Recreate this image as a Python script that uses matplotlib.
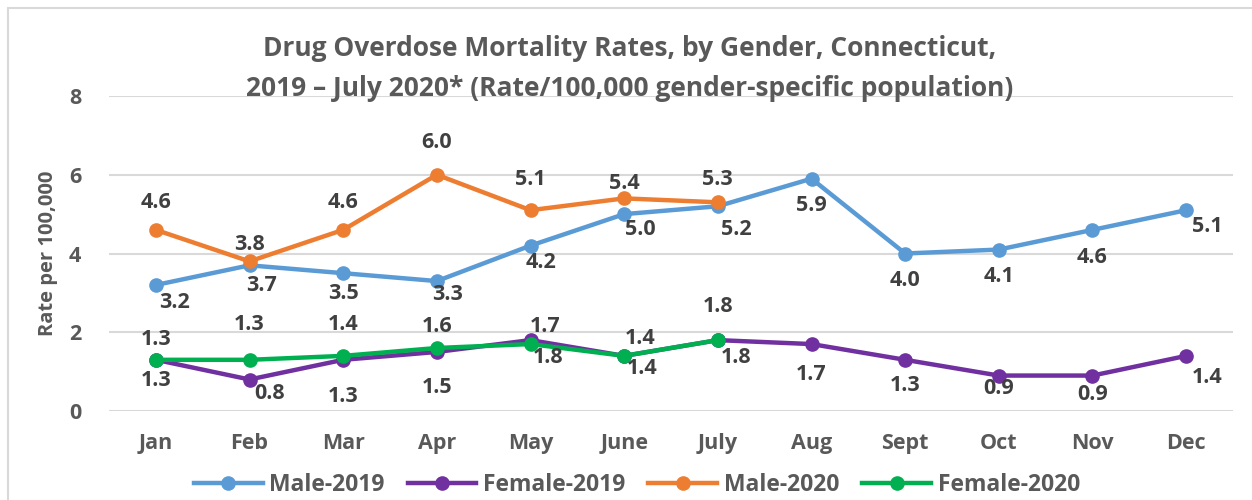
import matplotlib
matplotlib.use("Agg")
import matplotlib.pyplot as plt
from matplotlib.patches import Rectangle

plt.rcParams['font.family'] = ['Open Sans', 'DejaVu Sans']
plt.rcParams['font.weight'] = 'bold'

# data
months = ['Jan', 'Feb', 'Mar', 'Apr', 'May', 'June', 'July', 'Aug', 'Sept', 'Oct', 'Nov', 'Dec']
male_2019 = [3.2, 3.7, 3.5, 3.3, 4.2, 5.0, 5.2, 5.9, 4.0, 4.1, 4.6, 5.1]
female_2019 = [1.3, 0.8, 1.3, 1.5, 1.8, 1.4, 1.8, 1.7, 1.3, 0.9, 0.9, 1.4]
male_2020 = [4.6, 3.8, 4.6, 6.0, 5.1, 5.4, 5.3]
female_2020 = [1.3, 1.3, 1.4, 1.6, 1.7, 1.4, 1.8]

# label offsets in pixels (dx, dy), up is positive
off_m19 = [(19, -18), (12, -20), (0, -20), (11, -13), (10, -17), (16, -15), (18, -23),
           (0, -27), (0, -27), (0, -27), (0, -28), (21, -16)]
off_f19 = [(0, -21), (20, -14), (0, -37), (0, -36), (18, -17), (18, -13), (18, -17),
           (0, -30), (0, -26), (0, -13), (0, -19), (21, -22)]
off_m20 = [(0, 27), (0, 17), (0, 27), (0, 32), (0, 31), (0, 15), (0, 23)]
off_f20 = [(0, 20), (0, 35), (0, 31), (0, 21), (15, 18), (16, 17), (0, 34)]

fig = plt.figure(figsize=(12.52, 5.0), dpi=100)
ax = fig.add_axes([109 / 1252, 89 / 500, 1124 / 1252, 315 / 500])

series = [
    ('Male-2019', male_2019, '#5B9BD5', off_m19),
    ('Female-2019', female_2019, '#7030A0', off_f19),
    ('Male-2020', male_2020, '#ED7D31', off_m20),
    ('Female-2020', female_2020, '#00B050', off_f20),
]

for name, vals, col, offs in series:
    x = list(range(len(vals)))
    ax.plot(x, vals, color=col, lw=3.2, marker='o', ms=9.5, label=name, clip_on=False)
    for xi, v, (dx, dy) in zip(x, vals, offs):
        ax.annotate(f'{v:.1f}', (xi, v), xytext=(dx, dy), textcoords='offset pixels',
                    ha='center', va='center', fontsize=15.5, fontweight='bold', color='#404040')

ax.set_xlim(-0.5, 11.5)
ax.set_ylim(0, 8)
ax.set_yticks([0, 2, 4, 6, 8])
ax.set_xticks(range(12))
ax.set_xticklabels(months)
ax.tick_params(length=0, labelsize=15.5, colors='#595959', pad=16)
ax.tick_params(axis='y', pad=20)
ax.grid(axis='y', color='#D9D9D9', lw=1.5)
ax.set_axisbelow(True)
for s in ax.spines.values():
    s.set_visible(False)
ax.set_ylabel('Rate per 100,000', fontsize=14.5, color='#595959', fontweight='bold', labelpad=8)

fig.text(630 / 1252, 1 - 49 / 500, 'Drug Overdose Mortality Rates, by Gender, Connecticut,',
         ha='center', va='center', fontsize=19, color='#595959', fontweight='bold')
fig.text(630 / 1252, 1 - 89 / 500, '2019 \u2013 July 2020* (Rate/100,000 gender-specific population)',
         ha='center', va='center', fontsize=19, color='#595959', fontweight='bold')

leg = fig.legend(loc='center', bbox_to_anchor=(637 / 1252, 15 / 500), ncol=4, frameon=False,
                 fontsize=16.5, handlelength=3.0, columnspacing=1.0, handletextpad=0.3)
for t in leg.get_texts():
    t.set_color('#595959')

# chart frame (left and top edges visible)
fig.add_artist(Rectangle((8 / 1252, -0.1), 1.2, 0.1 + 492 / 500, transform=fig.transFigure,
                         fill=False, edgecolor='#D9D9D9', lw=1.5))

fig.savefig('out.png', dpi=100)
